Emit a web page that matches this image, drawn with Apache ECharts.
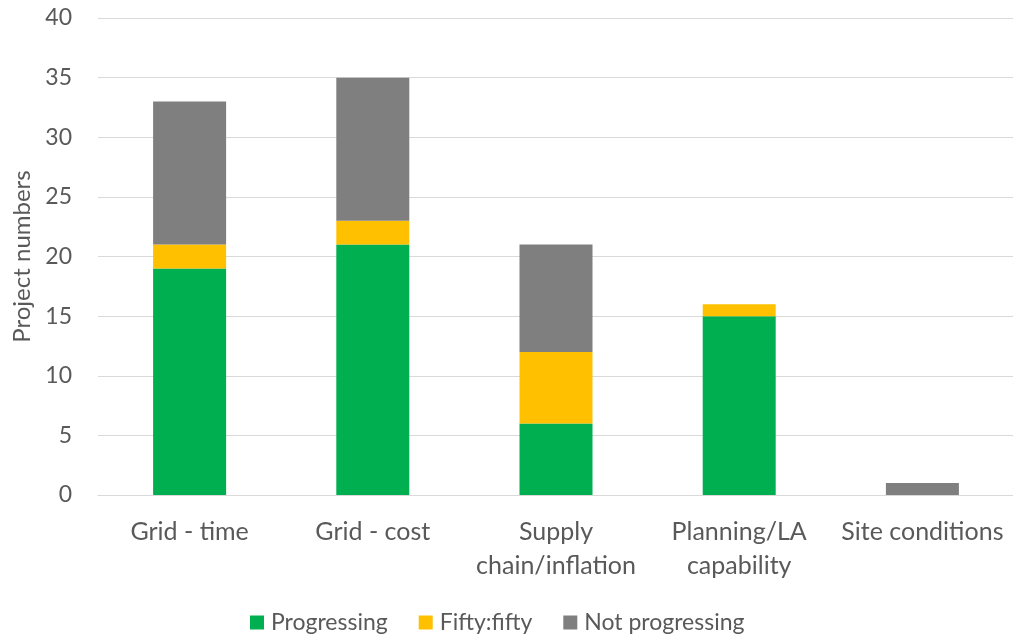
<!DOCTYPE html>
<html>
<head>
<meta charset="utf-8">
<script src="https://cdn.jsdelivr.net/npm/echarts@6/dist/echarts.min.js"></script>
<style>
  html, body { margin: 0; padding: 0; background: #fff; }
  #chart { width: 1013px; height: 637px; }
</style>
</head>
<body>
<div id="chart"></div>
<script>
// category labels and counts per status
const categories = ['Grid - time', 'Grid - cost', 'Supply\nchain/inflation', 'Planning/LA\ncapability', 'Site conditions']
const progressing = [19, 21, 6, 15, 0]
const fiftyFifty = [2, 2, 6, 1, 0]
const notProgressing = [12, 12, 9, 0, 1]

const textColor = '#595959'
const font = 'Lato, "Open Sans", sans-serif'

const chart = echarts.init(document.getElementById('chart'))
chart.setOption({
  animation: false,
  textStyle: { fontFamily: font },
  grid: {
    left: 98,
    right: -1,
    top: 18,
    bottom: 142,
    outerBoundsMode: 'none',
    containLabel: false
  },
  legend: {
    top: 606,
    left: 245,
    itemWidth: 14,
    itemHeight: 14,
    itemGap: 31,
    icon: 'rect',
    textStyle: { color: textColor, fontSize: 23, fontFamily: font, padding: [0, 0, 0, 2] },
    data: ['Progressing', 'Fifty:fifty', 'Not progressing']
  },
  xAxis: {
    type: 'category',
    data: categories,
    axisLine: { lineStyle: { color: '#D9D9D9', width: 1 } },
    axisTick: { show: false },
    axisLabel: {
      color: textColor,
      fontSize: 25,
      margin: 20,
      lineHeight: 34,
      interval: 0
    }
  },
  yAxis: {
    type: 'value',
    min: 0,
    max: 40,
    interval: 5,
    name: 'Project numbers',
    nameLocation: 'middle',
    nameGap: 64,
    nameTextStyle: { color: textColor, fontSize: 24 },
    axisLine: { show: false },
    axisTick: { show: false },
    axisLabel: { color: textColor, fontSize: 23, margin: 26 },
    splitLine: { lineStyle: { color: '#D9D9D9', width: 1 } }
  },
  series: [
    {
      name: 'Progressing',
      type: 'bar',
      stack: 'total',
      barWidth: 73,
      itemStyle: { color: '#00B050' },
      data: progressing
    },
    {
      name: 'Fifty:fifty',
      type: 'bar',
      stack: 'total',
      barWidth: 73,
      itemStyle: { color: '#FFC000' },
      data: fiftyFifty
    },
    {
      name: 'Not progressing',
      type: 'bar',
      stack: 'total',
      barWidth: 73,
      itemStyle: { color: '#7F7F7F' },
      data: notProgressing
    }
  ]
})
</script>
</body>
</html>
